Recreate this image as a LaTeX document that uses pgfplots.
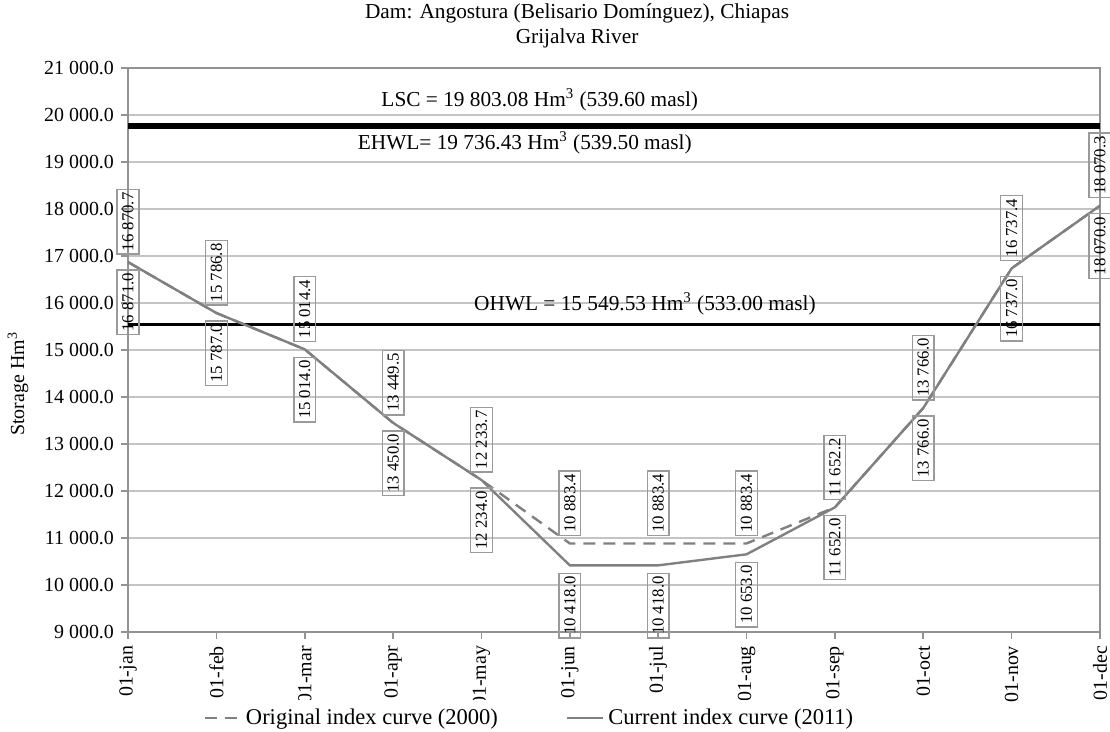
\documentclass[border=0pt]{standalone}
\usepackage{fontspec}
\setmainfont{Liberation Serif}
\usepackage{pgfplots}
\pgfplotsset{compat=1.18}

\definecolor{curve}{HTML}{808080}
\definecolor{gridc}{HTML}{C4C4C4}
\definecolor{boxc}{HTML}{9A9A9A}

\begin{document}
\begin{tikzpicture}
\begin{axis}[
  scale only axis, width=486bp, height=282bp,
  xmin=0, xmax=11, ymin=9000, ymax=21000,
  scaled y ticks=false,
  xtick={0,...,11},
  xticklabels={01-jan,01-feb,01-mar,01-apr,01-may,01-jun,01-jul,01-aug,01-sep,01-oct,01-nov,01-dec},
  x tick label style={rotate=90, anchor=east, font=\fontsize{10}{12}\selectfont},
  y tick label style={font=\fontsize{10}{12}\selectfont},
  ytick={9000,10000,...,21000},
  ymajorgrids, grid style={gridc, line width=0.9bp},
  axis line style={gray!85, line width=0.9bp},
  tick align=outside, tick pos=lower,
  major tick length=3.5bp,
  tick style={gray!85, line width=0.8bp},
  ylabel={Storage Hm\textsuperscript{3}},
  every axis y label/.style={at={(rel axis cs:0,0.44)}, xshift=-55bp, rotate=90, anchor=center, font=\fontsize{10}{12}\selectfont},
  title={Dam: Angostura (Belisario Domínguez), Chiapas\\Grijalva River},
  title style={at={(rel axis cs:0.462,1)}, anchor=south, yshift=0.5bp, align=center, font=\fontsize{10.7}{12.5}\selectfont},
  legend style={draw=none, at={(rel axis cs:0.414,-0.152)}, anchor=center, legend columns=2,
    font=\fontsize{11.3}{13}\selectfont,
    /tikz/every even column/.append style={column sep=32bp},
    /tikz/every odd column/.append style={inner xsep=3bp}},
  legend image code/.code={\draw[#1] (0bp,0bp) -- (18bp,0bp);},
  /pgf/number format/.cd, fixed, fixed zerofill, precision=1, 1000 sep={\ }, assume math mode=true,
]
% reference levels
\addplot[black, line width=1.5bp, forget plot] coordinates {(0,19803.08) (11,19803.08)};
\addplot[black, line width=1.5bp, forget plot] coordinates {(0,19736.43) (11,19736.43)};
\addplot[black, line width=1.5bp, forget plot] coordinates {(0,15549.53) (11,15549.53)};

% original index curve (2000), values labelled above
\addplot[curve, line width=1.2bp, dash pattern=on 6bp off 4bp,
  nodes near coords,
  every node near coord/.append style={font=\fontsize{8.4}{10}\selectfont, text=black,
    draw=boxc, line width=0.7bp, solid, inner xsep=1.5bp, inner ysep=2.6bp, outer sep=4bp, rotate=90, anchor=west}]
  coordinates {(0,16870.7) (1,15786.8) (2,15014.4) (3,13449.5) (4,12233.7) (5,10883.4)
               (6,10883.4) (7,10883.4) (8,11652.2) (9,13766.0) (10,16737.4) (11,18070.3)};
\addlegendentry{Original index curve (2000)}

% current index curve (2011), values labelled below
\addplot[curve, line width=1.2bp, solid,
  nodes near coords,
  every node near coord/.append style={font=\fontsize{8.4}{10}\selectfont, text=black,
    draw=boxc, line width=0.7bp, inner xsep=1.5bp, inner ysep=2.6bp, outer sep=4bp, rotate=90, anchor=east}]
  coordinates {(0,16871.0) (1,15787.0) (2,15014.0) (3,13450.0) (4,12234.0) (5,10418.0)
               (6,10418.0) (7,10653.0) (8,11652.0) (9,13766.0) (10,16737.0) (11,18070.0)};
\addlegendentry{Current index curve (2011)}

\node[font=\fontsize{10.7}{12}\selectfont] at (axis cs:4.66,20319) {LSC = 19 803.08 Hm\textsuperscript{3} (539.60 masl)};
\node[font=\fontsize{10.7}{12}\selectfont] at (axis cs:4.49,19404) {EHWL= 19 736.43 Hm\textsuperscript{3} (539.50 masl)};
\node[font=\fontsize{10.7}{12}\selectfont] at (axis cs:5.85,15979) {OHWL = 15 549.53 Hm\textsuperscript{3} (533.00 masl)};
\end{axis}
\pgfresetboundingbox
\path[use as bounding box] (-64bp,-50bp) rectangle (491bp,316bp);
\end{tikzpicture}
\end{document}
